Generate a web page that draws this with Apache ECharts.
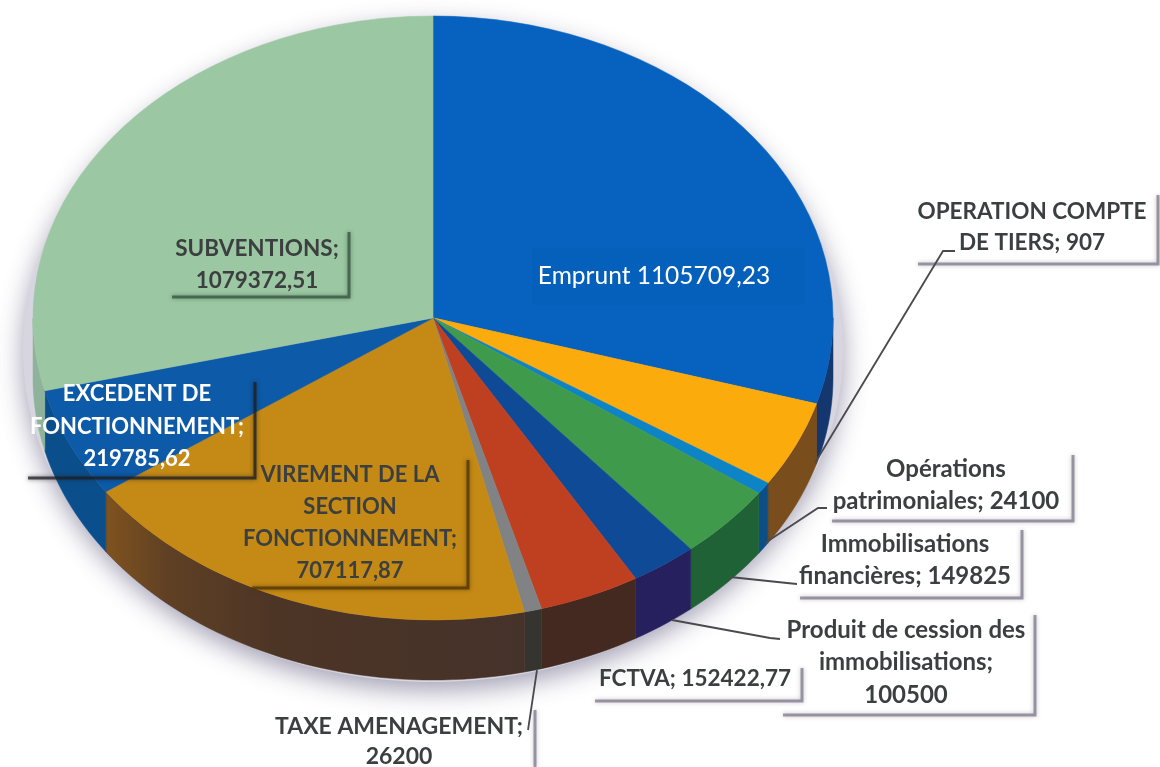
<!DOCTYPE html>
<html>
<head>
<meta charset="utf-8">
<style>html,body{margin:0;padding:0;background:#fff}#c{width:1160px;height:767px}</style>
<script src="https://cdn.jsdelivr.net/npm/echarts@6/dist/echarts.min.js"></script>
</head>
<body>
<div id="c"></div>
<script>
// Slices clockwise from 12 o'clock. The printed labels give every value except the
// yellow slice, which has no printed label: its value is estimated from its drawn angle.
const categories = ['Emprunt','OPERATION COMPTE DE TIERS','(tranche jaune sans étiquette)','Opérations patrimoniales','Immobilisations financières','Produit de cession des immobilisations','FCTVA','TAXE AMENAGEMENT','VIREMENT DE LA SECTION FONCTIONNEMENT','EXCEDENT DE FONCTIONNEMENT','SUBVENTIONS'];
const values = [1105709.23,907,172000,24100,149825,100500,152422.77,26200,707117.87,219785.62,1079372.51];
const topColors = ['#0762bf','#fbab0c','#fbab0c','#0d84c6','#3f9b4b','#0f4a96','#bf4020','#808284','#c48a15','#0c5aa8','#9cc7a3'];
const sideColors = ['#15376f','#7a4d1c','#7a4d1c','#0c4f86','#1f6236','#26205e','#43291f','#35342f','orange','#0a4f8c','#8fb39a'];

const labelLines = [
  ['Emprunt 1105709,23'],
  ['OPERATION COMPTE','DE TIERS; 907'],
  ['Opérations','patrimoniales; 24100'],
  ['Immobilisations','financières; 149825'],
  ['Produit de cession des','immobilisations;','100500'],
  ['FCTVA; 152422,77'],
  ['TAXE AMENAGEMENT;','26200'],
  ['VIREMENT DE LA','SECTION','FONCTIONNEMENT;','707117,87'],
  ['EXCEDENT DE','FONCTIONNEMENT;','219785,62'],
  ['SUBVENTIONS;','1079372,51']
];
// layout: centre x, first line y, line step, font size, shadow box [left, top, right, bottom]
const labelLayout = [
  {x:654,y:276,step:0,size:24.5,plain:true},
  {x:1032,y:212,step:31,size:22.5,box:[918,195,1158,264]},
  {x:946,y:469,step:32,size:24,box:[832,455,1073,521]},
  {x:905,y:544,step:32,size:24,box:[800,530,1022,598]},
  {x:906,y:630,step:32.5,size:24,box:[783,615,1035,715]},
  {x:695,y:679,step:0,size:22.5,box:[595,668,802,701]},
  {x:399,y:727,step:30,size:23,box:[0,710,535,800]},
  {x:350,y:475,step:32,size:22,box:[252,460,468,588],shadow:'rgba(85,55,5,0.8)'},
  {x:137,y:394,step:32.5,size:22,light:true,box:[28,382,255,478],shadow:'rgba(30,30,35,0.75)'},
  {x:257,y:249,step:32,size:22.5,box:[172,232,349,297],shadow:'rgba(45,75,55,0.7)'}
];
const leaders = [
  [[955,251],[943,251],[815,463]],
  [[827,508],[818,508],[765,543]],
  [[797,584],[787,583],[730,577]],
  [[780,639],[770,638],[672,620]],
  [[537,670],[528,730]]
];

const CX = 433, CY = 318, RX = 400, RY = 302, DEPTH = 60;
const total = values.reduce((a, b) => a + b, 0);
const starts = [];
values.reduce((acc, v, i) => { starts[i] = acc; return acc + v; }, 0);
const FONT = 'Lato, "Open Sans", sans-serif';

function rim(deg, dy) {
  const t = (deg - 90) * Math.PI / 180;
  return [CX + RX * Math.cos(t), CY + RY * Math.sin(t) + dy];
}
function range(i) {
  return [starts[i] / total * 360, (starts[i] + values[i]) / total * 360];
}
function renderWall(params) {
  const i = params.dataIndex;
  const [a0, b0] = range(i);
  const a = Math.max(a0, 90), b = Math.min(b0, 270);
  if (b <= a) return null;
  const n = Math.max(2, Math.ceil((b - a) / 1.5));
  const up = [], down = [];
  for (let k = 0; k <= n; k++) {
    const d = a + (b - a) * k / n;
    up.push(rim(d, 0));
    down.unshift(rim(d, DEPTH));
  }
  let fill = sideColors[i];
  if (fill === 'orange') {
    fill = new echarts.graphic.LinearGradient(1, 0, 0, 0, [
      {offset: 0, color: '#45322a'},
      {offset: 0.6, color: '#4d3526'},
      {offset: 0.85, color: '#5f4024'},
      {offset: 1, color: '#80531f'}
    ]);
  }
  return {type: 'polygon', shape: {points: up.concat(down)},
    style: {fill: fill, stroke: sideColors[i] === 'orange' ? '#4a3322' : sideColors[i], lineWidth: 0.5}};
}
function renderTop(params) {
  const i = params.dataIndex;
  const [a, b] = range(i);
  return {type: 'sector', x: CX, y: CY, scaleX: 1, scaleY: RY / RX,
    shape: {cx: 0, cy: 0, r0: 0, r: RX,
      startAngle: (a - 90) * Math.PI / 180, endAngle: (b - 90) * Math.PI / 180, clockwise: true},
    style: {fill: topColors[i], stroke: topColors[i], lineWidth: 0.6}};
}

const graphics = [];
graphics.push({type: 'ellipse', z: 0, shape: {cx: CX, cy: CY + 32, rx: RX + 10, ry: RY + 30},
  style: {fill: '#d6d5e0', shadowBlur: 26, shadowColor: 'rgba(150,147,170,0.9)', shadowOffsetY: 8}});
labelLayout.forEach((l, i) => {
  if (l.plain) {
    graphics.push({type: 'rect', z: 5, shape: {x: 532, y: 248, width: 273, height: 57},
      style: {fill: '#0560bc'}});
  }
  if (l.box) {
    const [x0, y0, x1, y1] = l.box;
    const col = l.shadow || 'rgba(110,105,125,0.65)';
    const pts = y1 > 767 ? [[x1, y0], [x1, 767]] : [[x1, y0], [x1, y1], [x0, y1]];
    graphics.push({type: 'polyline', z: 6, shape: {points: pts},
      style: {fill: 'none', stroke: col, lineWidth: 3, shadowBlur: 4, shadowColor: col}});
  }
  labelLines[i].forEach((t, k) => {
    const fill = l.plain || l.light ? '#ffffff' : '#3b3f3f';
    graphics.push({type: 'text', z: 10, x: l.x, y: l.y + k * l.step,
      style: {text: t, x: 0, y: 0, align: 'center', verticalAlign: 'middle',
        font: (l.plain ? '400 ' : '700 ') + l.size + 'px ' + FONT,
        fill: fill,
        shadowBlur: l.plain ? 0 : 1.5, shadowColor: fill}});
  });
});
leaders.forEach(p => {
  graphics.push({type: 'polyline', z: 7, shape: {points: p},
    style: {fill: 'none', stroke: '#4a4a4e', lineWidth: 1.8}});
});

const chart = echarts.init(document.getElementById('c'), null, {renderer: 'canvas'});
const seriesData = categories.map((name, i) => ({name: name, value: values[i]}));
chart.setOption({
  animation: false,
  backgroundColor: '#ffffff',
  series: [
    {type: 'custom', coordinateSystem: 'none', z: 2, silent: true, data: seriesData, renderItem: renderWall},
    {type: 'custom', coordinateSystem: 'none', z: 3, silent: true, data: seriesData, renderItem: renderTop}
  ],
  graphic: {elements: graphics}
});
</script>
</body>
</html>
